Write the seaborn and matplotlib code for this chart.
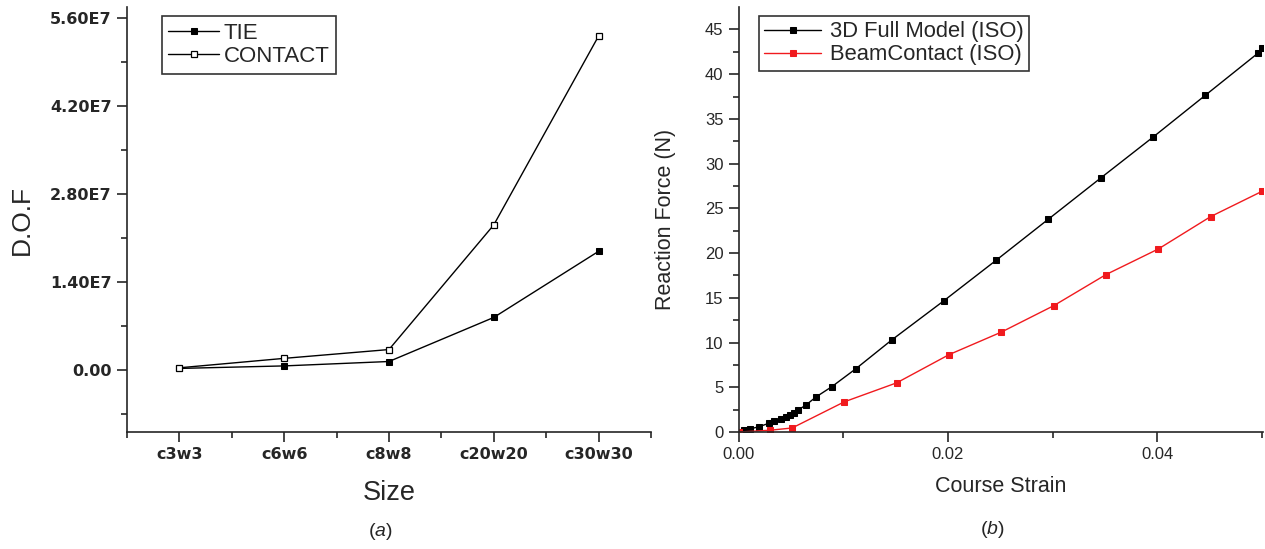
import numpy as np
import pandas as pd
import seaborn as sns
import matplotlib
matplotlib.use("Agg")
import matplotlib.pyplot as plt
from matplotlib.ticker import FixedLocator, FuncFormatter, MultipleLocator

# ---------------- data: panel (a) ----------------
sizes = ["c3w3", "c6w6", "c8w8", "c20w20", "c30w30"]
dof_tie = [0.03e7, 0.07e7, 0.14e7, 0.84e7, 1.89e7]
dof_contact = [0.04e7, 0.19e7, 0.33e7, 2.31e7, 5.31e7]

# ---------------- data: panel (b) ----------------
strain_full = [0.0, 0.0005, 0.0011, 0.0019, 0.0029, 0.0034, 0.0040, 0.0045,
               0.0049, 0.0053, 0.0057, 0.0064, 0.0074, 0.0089, 0.0112, 0.0146,
               0.0196, 0.0246, 0.0296, 0.0346, 0.0396, 0.0446, 0.0496, 0.0500]
force_full = [0.0, 0.22, 0.35, 0.58, 0.98, 1.18, 1.42, 1.65,
              1.88, 2.10, 2.48, 3.00, 3.93, 5.07, 7.08, 10.27,
              14.67, 19.20, 23.80, 28.40, 32.97, 37.65, 42.33, 42.90]

strain_beam = [0.0, 0.0030, 0.0051, 0.0101, 0.0151, 0.0201, 0.0251, 0.0301,
               0.0351, 0.0401, 0.0451, 0.0500]
force_beam = [0.0, 0.20, 0.45, 3.38, 5.50, 8.65, 11.17, 14.12,
              17.60, 20.46, 24.08, 26.90]

sns.set_style("ticks")
plt.rcParams["font.family"] = ["Liberation Sans", "DejaVu Sans"]
plt.rcParams["mathtext.fontset"] = "custom"
plt.rcParams["mathtext.rm"] = "Liberation Sans"
plt.rcParams["mathtext.it"] = "Liberation Sans:italic"
plt.rcParams["axes.linewidth"] = 1.2
plt.rcParams["xtick.direction"] = "out"
plt.rcParams["ytick.direction"] = "out"

fig = plt.figure(figsize=(12.65, 5.49), dpi=100)
ax1 = fig.add_axes([0.1004, 0.2131, 0.4142, 0.774])
ax2 = fig.add_axes([0.584, 0.2131, 0.4144, 0.774])

# ---------------- panel (a) ----------------
df_a = pd.DataFrame({"Size": sizes * 2,
                     "DOF": dof_tie + dof_contact,
                     "kind": ["TIE"] * len(sizes) + ["CONTACT"] * len(sizes)})

sns.lineplot(data=df_a[df_a["kind"] == "TIE"], x="Size", y="DOF", ax=ax1,
             color="black", lw=1.0, marker="s", markersize=4.5,
             markerfacecolor="black", markeredgecolor="black", label="TIE", sort=False)
sns.lineplot(data=df_a[df_a["kind"] == "CONTACT"], x="Size", y="DOF", ax=ax1,
             color="black", lw=1.0, marker="s", markersize=5,
             markerfacecolor="white", markeredgecolor="black", markeredgewidth=0.9,
             label="CONTACT", sort=False)

ax1.set_xlim(-0.5, 4.5)
ax1.set_ylim(-0.98e7, 5.77e7)
ax1.set_xticks(range(len(sizes)))
ax1.set_xticklabels(sizes)
ax1.xaxis.set_minor_locator(FixedLocator(np.arange(-0.5, 4.6, 1.0)))
ax1.set_yticks(np.arange(0, 5.61e7, 1.4e7))
ax1.yaxis.set_minor_locator(FixedLocator(np.arange(-0.7e7, 5.7e7, 1.4e7)))
ax1.yaxis.set_major_formatter(FuncFormatter(
    lambda v, p: "0.00" if abs(v) < 1 else f"{v / 1e7:.2f}E7"))
for lab in ax1.get_xticklabels() + ax1.get_yticklabels():
    lab.set_family("DejaVu Sans")
    lab.set_weight("bold")
    lab.set_fontsize(11.5)
ax1.tick_params(which="major", length=7, width=1.2, pad=4)
ax1.tick_params(which="minor", length=4, width=1.2)
sns.despine(ax=ax1)

ax1.set_xlabel("Size", fontsize=19.5)
ax1.set_ylabel("D.O.F", fontsize=19)
ax1.xaxis.set_label_coords(0.5, -0.112)
ax1.yaxis.set_label_coords(-0.178, 0.5)

leg1 = ax1.legend(loc="upper left", bbox_to_anchor=(0.066, 0.979), borderaxespad=0,
                  fontsize=16, frameon=True, fancybox=False, handlelength=2.3,
                  handletextpad=0.2, borderpad=0.3, labelspacing=0.1)
leg1.get_frame().set_edgecolor("black")
leg1.get_frame().set_linewidth(1.2)

# ---------------- panel (b) ----------------
sns.lineplot(x=strain_full, y=force_full, ax=ax2, color="black", lw=1.0,
             marker="s", markersize=4.8, markeredgecolor="black",
             label="3D Full Model (ISO)")
sns.lineplot(x=strain_beam, y=force_beam, ax=ax2, color="#f01a1e", lw=1.0,
             marker="s", markersize=4.8, markeredgecolor="#f01a1e",
             label="BeamContact (ISO)")

ax2.set_xlim(0, 0.0501)
ax2.set_ylim(0, 47.5)
ax2.set_xticks([0.0, 0.02, 0.04])
ax2.xaxis.set_major_formatter(FuncFormatter(lambda v, p: f"{v:.2f}"))
ax2.xaxis.set_minor_locator(FixedLocator([0.01, 0.03, 0.05]))
ax2.yaxis.set_major_locator(MultipleLocator(5))
ax2.yaxis.set_minor_locator(FixedLocator(np.arange(2.5, 47.5, 5)))
ax2.tick_params(which="major", length=7, width=1.2, labelsize=12, pad=4)
ax2.tick_params(which="minor", length=4, width=1.2)
sns.despine(ax=ax2)

ax2.set_xlabel("Course Strain", fontsize=15.5)
ax2.set_ylabel("Reaction Force (N)", fontsize=15.5)
ax2.xaxis.set_label_coords(0.5, -0.104)
ax2.yaxis.set_label_coords(-0.12, 0.5)

leg2 = ax2.legend(loc="upper left", bbox_to_anchor=(0.038, 0.979), borderaxespad=0,
                  fontsize=15.8, frameon=True, fancybox=False, handlelength=2.6,
                  handletextpad=0.4, borderpad=0.25, labelspacing=0.08)
leg2.get_frame().set_edgecolor("black")
leg2.get_frame().set_linewidth(1.2)

# panel captions
fig.text(380 / 1265, 1 - 532 / 549, r"($\mathit{a}$)", ha="center", va="center", fontsize=14)
fig.text(992 / 1265, 1 - 530 / 549, r"($\mathit{b}$)", ha="center", va="center", fontsize=14)

fig.savefig("out.png", dpi=100)
